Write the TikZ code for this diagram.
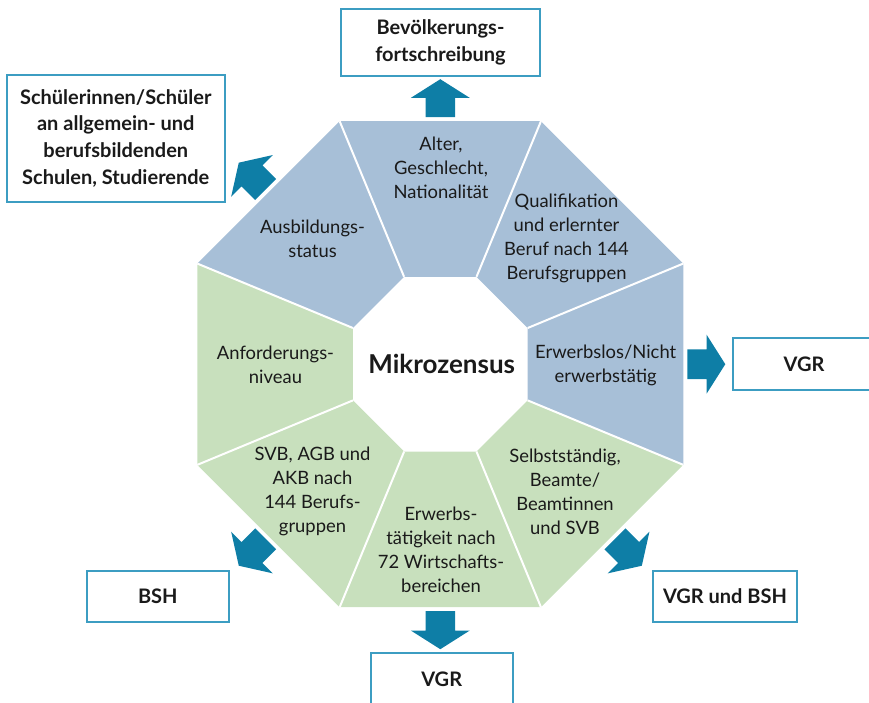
\documentclass[tikz,border=0pt]{standalone}
\usepackage{fontspec}
\setmainfont{Lato}
\usetikzlibrary{calc}
\definecolor{segblue}{HTML}{A7BFD7}
\definecolor{seggreen}{HTML}{C8E0BD}
\definecolor{arrowcol}{HTML}{0E7EA6}
\definecolor{boxcol}{HTML}{3C9DC2}
\definecolor{txt}{HTML}{1A1A1A}
\begin{document}
\begin{tikzpicture}[x=0.75pt,y=-0.75pt,
  segtext/.style={align=center,font=\fontsize{13.8}{18}\selectfont,text=txt,inner sep=0pt},
  outbox/.style={draw=boxcol,line width=1.4pt,fill=white,align=center,
    font=\fontsize{15}{20}\selectfont\bfseries,text=txt,inner sep=0pt},
  blockarrow/.pic={\fill[arrowcol] (0,0) -- (29.5,18.7) -- (14.8,18.7) -- (14.8,38)
    -- (-14.8,38) -- (-14.8,18.7) -- (-29.5,18.7) -- cycle;}
]
\useasboundingbox (0,0) rectangle (869,703);
\clip (0,0) rectangle (869,703);
\coordinate (C) at (440.3,364.2);
\foreach \i in {0,...,7} {
  \pgfmathsetmacro\a{247.5+45*\i}
  \coordinate (O\i) at ($(C)+({263.02*cos(\a)},{263.02*sin(\a)})$);
  \coordinate (I\i) at ($(C)+({94.6*cos(\a)},{94.6*sin(\a)})$);
}
\foreach \i/\c in {0/segblue,1/segblue,2/segblue,3/seggreen,4/seggreen,5/seggreen,6/seggreen,7/segblue} {
  \pgfmathtruncatemacro\j{mod(\i+1,8)}
  \fill[\c] (O\i) -- (O\j) -- (I\j) -- (I\i) -- cycle;
}
\foreach \i in {0,...,7} \draw[white,line width=1.5pt] (O\i) -- (I\i);

\node[segtext] (s0) at (441,168) {Alter,\\Geschlecht,\\Nationalität};
\node[segtext] (s1) at (566.5,238.5) {Qualifikation\\und erlernter\\Beruf nach 144\\Berufsgruppen};
\node[segtext] (s2) at (605.7,365) {Erwerbslos/Nicht\\erwerbstätig};
\node[segtext] (s3) at (565,491.5) {Selbstständig,\\Beamte/\\Beamtinnen\\und SVB};
\node[segtext] (s4) at (441,549.5) {Erwerbs-\\tätigkeit nach\\72 Wirtschafts-\\bereichen};
\node[segtext] (s5) at (312.5,491.5) {SVB, AGB und\\AKB nach\\144 Berufs-\\gruppen};
\node[segtext] (s6) at (275.5,365) {Anforderungs-\\niveau};
\node[segtext] (s7) at (312.5,238.7) {Ausbildungs-\\status};
\node[font=\fontsize{19.5}{22}\selectfont\bfseries,text=txt,inner sep=0pt] (mz) at (441.7,364) {Mikrozensus};

\foreach \ang/\rot in {270/0, 0/-90, 90/180, 225/45, 135/135, 45/-135}
  \pic[rotate=\rot] at ($(C)+({285*cos(\ang)},{285*sin(\ang)})$) {blockarrow};

\node[outbox,minimum width=149.25pt,minimum height=50pt] (bev) at (440.5,42.7) {Bevölkerungs-\\fortschreibung};
\node[outbox,minimum width=163.7pt,minimum height=95pt] (sch) at (115.8,138.3) {Schülerinnen/Schüler\\an allgemein- und\\berufsbildenden\\Schulen, Studierende};
\node[outbox,minimum width=106.5pt,minimum height=38.8pt] (vgr1) at (804,364.2) {VGR};
\node[outbox,minimum width=106.7pt,minimum height=38.7pt] (bsh) at (157.8,596.5) {BSH};
\node[outbox,minimum width=107.5pt,minimum height=38.7pt] (vgrbsh) at (725,596.5) {VGR und BSH};
\node[outbox,minimum width=106.5pt,minimum height=38.7pt] (vgr2) at (441.7,679.1) {VGR};
\end{tikzpicture}
\end{document}
